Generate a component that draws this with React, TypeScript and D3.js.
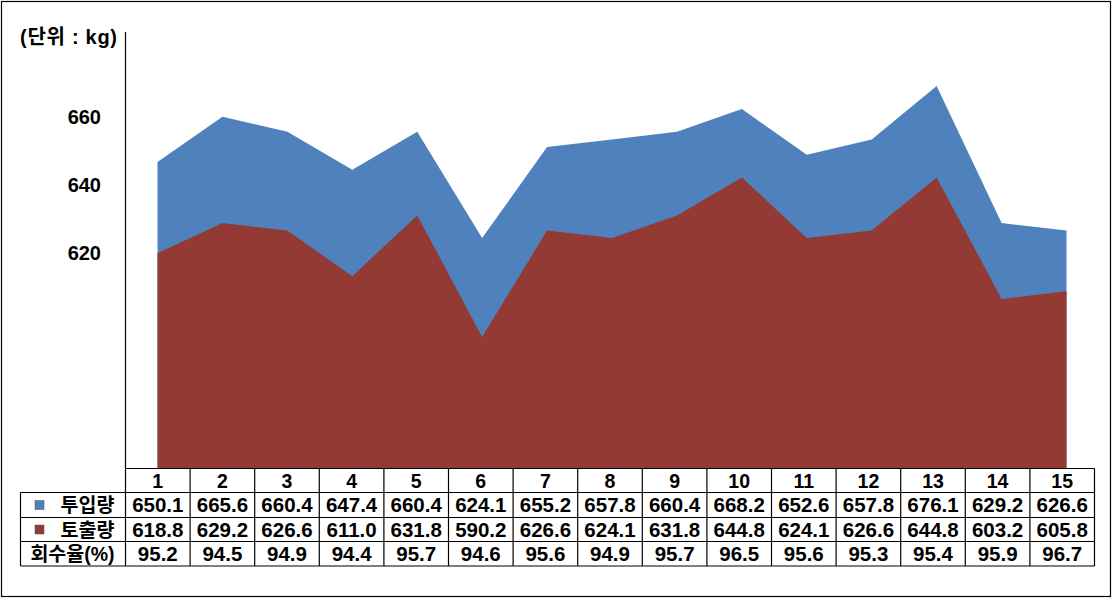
import React from 'react';
import * as d3 from 'd3';

const days = ['1', '2', '3', '4', '5', '6', '7', '8', '9', '10', '11', '12', '13', '14', '15'];
const inputVals = [650.1, 665.6, 660.4, 647.4, 660.4, 624.1, 655.2, 657.8, 660.4, 668.2, 652.6, 657.8, 676.1, 629.2, 626.6];
const outputVals = [618.8, 629.2, 626.6, 611.0, 631.8, 590.2, 626.6, 624.1, 631.8, 644.8, 624.1, 626.6, 644.8, 603.2, 605.8];
const rates = [95.2, 94.5, 94.9, 94.4, 95.7, 94.6, 95.6, 94.9, 95.7, 96.5, 95.6, 95.3, 95.4, 95.9, 96.7];
const yTickLabels = [620, 640, 660];
const seriesNames = ['투입량', '토출량'];
const rateLabel = '회수율(%)';
const unitLabel = '(단위 : kg)';

const BLUE = '#4F81BD';
const RED = '#943A34';
const FONT = '"Liberation Sans", Arial, "Noto Sans CJK KR", sans-serif';

export default function App() {
  const W = 1115;
  const H = 598;
  const x = d3.scalePoint<string>().domain(days).range([157.5, 1066.5]);
  const y = d3.scaleLinear().domain([545.3, 694.6]).range([468, 32]);
  const yLabel = d3.scaleLinear().domain([620, 660]).range([253, 117]);
  const col = d3.scaleBand<string>().domain(days).range([125.5, 1094.5]).padding(0);
  const bw = col.bandwidth();

  const area = (vals: number[]) =>
    d3
      .area<number>()
      .x((_, i) => x(days[i]) as number)
      .y0(y.range()[0])
      .y1((v) => y(v))(vals) as string;

  const rowTops = [468.5, 492.5, 517.5, 541.5, 566];
  const tableLeft = 20.5;
  const tableRight = 1094.5;
  const rowsData: { label: string; values: string[]; color?: string }[] = [
    { label: seriesNames[0], values: inputVals.map((v) => v.toFixed(1)), color: BLUE },
    { label: seriesNames[1], values: outputVals.map((v) => v.toFixed(1)), color: RED },
    { label: rateLabel, values: rates.map((v) => v.toFixed(1)) },
  ];

  return (
    <svg
      width={W}
      height={H}
      style={{ position: 'absolute', left: 0, top: 0, background: '#fff' }}
      fontFamily={FONT}
      fontWeight="bold"
    >
      <rect x={1.5} y={1.5} width={1109} height={595} fill="#fff" stroke="#000" strokeWidth={1.2} />

      <path d={area(inputVals)} fill={BLUE} />
      <path d={area(outputVals)} fill={RED} />

      <line x1={125.5} x2={125.5} y1={32} y2={468.5} stroke="#000" strokeWidth={1.2} />

      <text x={20} y={44} textAnchor="start" fontSize={20} textLength={97} lengthAdjust="spacing">
        {unitLabel}
      </text>

      {yTickLabels.map((t) => (
        <text key={t} x={101} y={yLabel(t)} dy="0.36em" textAnchor="end" fontSize={20}>
          {t}
        </text>
      ))}

      <g stroke="#000" strokeWidth={1.2} fill="none">
        <line x1={125.5} x2={tableRight} y1={rowTops[0]} y2={rowTops[0]} />
        {rowTops.slice(1).map((t, i) => (
          <line key={i} x1={tableLeft} x2={tableRight} y1={t} y2={t} />
        ))}
        <line x1={tableLeft} x2={tableLeft} y1={rowTops[1]} y2={rowTops[4]} />
        {days.map((d) => (
          <line key={d} x1={col(d)} x2={col(d)} y1={rowTops[0]} y2={rowTops[4]} />
        ))}
        <line x1={tableRight} x2={tableRight} y1={rowTops[0]} y2={rowTops[4]} />
      </g>

      {days.map((d) => (
        <text
          key={d}
          x={(col(d) as number) + bw / 2}
          y={(rowTops[0] + rowTops[1]) / 2}
          dy="0.36em"
          textAnchor="middle"
          fontSize={19.5}
        >
          {d}
        </text>
      ))}

      {rowsData.map((r, ri) => {
        const cy = (rowTops[ri + 1] + rowTops[ri + 2]) / 2;
        return (
          <g key={r.label}>
            {r.color ? (
              <>
                <rect x={35} y={cy - 4.5} width={9} height={9} fill={r.color} stroke="#555" strokeWidth={0.5} />
                <text x={87.5} y={cy} dy="0.36em" textAnchor="middle" fontSize={19.5}>
                  {r.label}
                </text>
              </>
            ) : (
              <text x={72.5} y={cy} dy="0.36em" textAnchor="middle" fontSize={19.5}>
                {r.label}
              </text>
            )}
            {r.values.map((v, i) => (
              <text
                key={i}
                x={(col(days[i]) as number) + bw / 2}
                y={cy}
                dy="0.36em"
                textAnchor="middle"
                fontSize={20.5}
              >
                {v}
              </text>
            ))}
          </g>
        );
      })}
    </svg>
  );
}
